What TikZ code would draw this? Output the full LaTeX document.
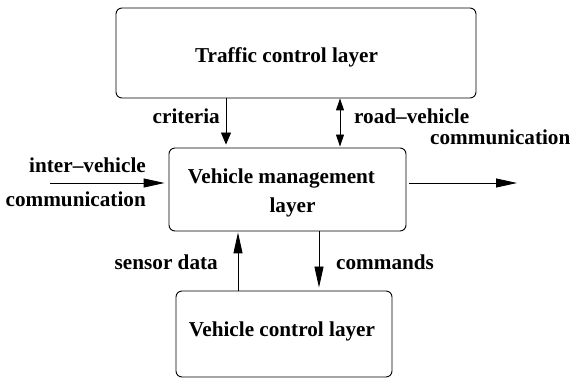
\documentclass[tikz,border=0pt]{standalone}
\usepackage{fontspec}
\setmainfont{Liberation Serif}
\usetikzlibrary{arrows.meta}
\begin{document}
\begin{tikzpicture}[x=1pt,y=-1pt,
  layerbox/.style={draw, line width=0.9pt, rounded corners=6pt, inner sep=0pt,
    font=\fontsize{21.2}{29}\selectfont\bfseries, align=center},
  lbl/.style={font=\fontsize{21.2}{21}\selectfont\bfseries, inner sep=0pt},
  link/.style={line width=0.9pt},
  bigtip/.style={-{Triangle[length=21pt,width=9pt]}},
  smalltip/.style={-{Triangle[length=12pt,width=10pt]}},
  bothtip/.style={{Triangle[length=12pt,width=8pt]}-{Triangle[length=12pt,width=8pt]}}]
\useasboundingbox (0,0) rectangle (570,379);

% the three layers
\node[layerbox, minimum width=360pt, minimum height=90pt,
      text height=20pt, text depth=0pt] (traffic) at (296,53)
      {\hspace*{-19pt}Traffic control layer};
\node[layerbox, minimum width=237pt, minimum height=83pt] (mgmt) at (287.5,189.5)
      {\rule{0pt}{21pt}\hspace*{-12pt}Vehicle management\\\hspace*{10pt}layer};
\node[layerbox, minimum width=216pt, minimum height=86pt,
      text height=14pt, text depth=10pt] (vctrl) at (284,334)
      {\hspace*{-4pt}Vehicle control layer};

% anchor columns and rows for the connectors
\coordinate (critx) at (226,0);
\coordinate (roadx) at (340,0);
\coordinate (sensx) at (238,0);
\coordinate (cmdx) at (319,0);
\coordinate (inL) at (50,183);
\coordinate (outR) at (517,183);

% connectors
\draw[link, smalltip, shorten >=3pt] (traffic.south -| critx) -- (mgmt.north -| critx);
\draw[link, bothtip, shorten >=1pt] (traffic.south -| roadx) -- (mgmt.north -| roadx);
\draw[link, bigtip, shorten >=4pt] (inL) -- (mgmt.west |- inL);
\draw[link, bigtip, shorten <=3pt] (mgmt.east |- outR) -- (outR);
\draw[link, bigtip, shorten >=1pt] (vctrl.north -| sensx) -- (mgmt.south -| sensx);
\draw[link, bigtip, shorten >=3pt] (mgmt.south -| cmdx) -- (vctrl.north -| cmdx);

% labels
\node[lbl, anchor=base east] (lcrit) at (220,124) {criteria};
\node[lbl, anchor=base west] (lroad) at (354,124) {road--vehicle};
\node[lbl, anchor=base west] (lroad2) at (430,145) {communication};
\node[lbl, anchor=base east] (linter) at (146,173) {inter--vehicle};
\node[lbl, anchor=base east] (linter2) at (146,207) {communication};
\node[lbl, anchor=base east] (lsens) at (218,270) {sensor data};
\node[lbl, anchor=base west] (lcmd) at (336,270) {commands};
\end{tikzpicture}
\end{document}
